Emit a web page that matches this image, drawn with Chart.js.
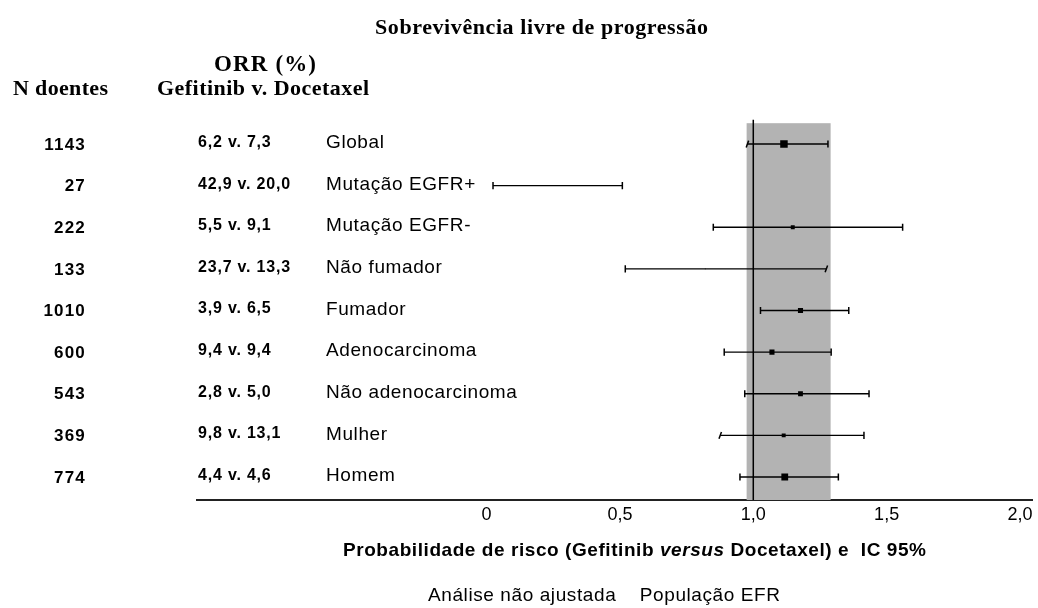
<!DOCTYPE html>
<html>
<head>
<meta charset="utf-8">
<script src="https://cdn.jsdelivr.net/npm/chart.js@4.4.0/dist/chart.umd.min.js"></script>
<style>
  html, body { margin: 0; padding: 0; background: #fff; }
</style>
</head>
<body>
<canvas id="forest" width="1038" height="608"></canvas>
<script>
// data
var subgroups = ['Global', 'Mutação EGFR+', 'Mutação EGFR-', 'Não fumador', 'Fumador',
                 'Adenocarcinoma', 'Não adenocarcinoma', 'Mulher', 'Homem'];
var nPatients = ['1143', '27', '222', '133', '1010', '600', '543', '369', '774'];
var orrValues = ['6,2 v. 7,3', '42,9 v. 20,0', '5,5 v. 9,1', '23,7 v. 13,3', '3,9 v. 6,5',
                 '9,4 v. 9,4', '2,8 v. 5,0', '9,8 v. 13,1', '4,4 v. 4,6'];
var hazardRatio = [1.115, 0.11, 1.148, 0.82, 1.177, 1.07, 1.177, 1.114, 1.118];
var ciLower     = [0.978, 0.024, 0.85, 0.52, 1.027, 0.891, 0.968, 0.876, 0.95];
var ciUpper     = [1.28, 0.509, 1.56, 1.274, 1.358, 1.292, 1.434, 1.415, 1.319];
var xTicks      = [0, 0.5, 1, 1.5, 2];
var xTickLabels = ['0', '0,5', '1,0', '1,5', '2,0'];
var bandLow = 0.975, bandHigh = 1.29;

var SANS = '"Liberation Sans", Arial, sans-serif';
var SERIF = '"Liberation Serif", "Times New Roman", serif';

// caps that come out slanted in the original ("row-end")
var slanted = ['0-0', '3-1', '7-0'];

function txt(ctx, s, x, y, font, align, spacing) {
  ctx.font = font;
  ctx.letterSpacing = (spacing || 0) + 'px';
  ctx.textAlign = align;
  ctx.textBaseline = 'middle';
  ctx.fillText(s, x, y);
}

// lay out pieces of text (each with own font) so they fill left..right
function fitParts(ctx, parts, left, right, y) {
  var natural = 0, chars = 0;
  ctx.letterSpacing = '0px';
  parts.forEach(function (p) {
    ctx.font = p[1];
    natural += ctx.measureText(p[0]).width;
    chars += p[0].length;
  });
  var sp = (right - left - natural) / (chars - 1);
  var x = left;
  parts.forEach(function (p) {
    txt(ctx, p[0], x, y, p[1], 'left', sp);
    x += ctx.measureText(p[0]).width;
  });
}

var ciDatasets = subgroups.map(function (name, i) {
  return {
    label: name,
    data: [{x: ciLower[i], y: i}, {x: ciUpper[i], y: i}],
    showLine: true,
    borderColor: '#000',
    borderWidth: 1.3,
    pointStyle: 'line',
    pointRotation: function (c) {
      return slanted.indexOf(i + '-' + c.dataIndex) >= 0 ? 110 : 90;
    },
    pointRadius: 3.6,
    pointBorderColor: '#000',
    pointBorderWidth: 1.5,
    order: 2
  };
});

var estimateSet = {
  label: 'HR',
  data: hazardRatio.map(function (v, i) { return {x: v, y: i}; }),
  showLine: false,
  pointStyle: 'rect',
  pointRadius: [5.3, 0.6, 2.8, 0.6, 3.6, 3.6, 3.4, 2.8, 4.8],
  backgroundColor: '#000',
  borderColor: '#000',
  borderWidth: 0,
  order: 1
};

var backdrop = {
  id: 'backdrop',
  beforeDatasetsDraw: function (chart) {
    var ctx = chart.ctx, xs = chart.scales.x, ys = chart.scales.y, area = chart.chartArea;
    var x1 = xs.getPixelForValue(bandLow), x2 = xs.getPixelForValue(bandHigh);
    var top = ys.getPixelForValue(-0.5);
    ctx.save();
    ctx.fillStyle = '#b3b3b3';
    ctx.fillRect(x1, top, x2 - x1, area.bottom - top);
    var xr = xs.getPixelForValue(1);
    ctx.strokeStyle = '#000';
    ctx.lineWidth = 1.5;
    ctx.beginPath();
    ctx.moveTo(xr, ys.getPixelForValue(-0.58));
    ctx.lineTo(xr, area.bottom);
    ctx.stroke();
    ctx.restore();
  }
};

var labels = {
  id: 'labels',
  afterDraw: function (chart) {
    var ctx = chart.ctx, ys = chart.scales.y;
    ctx.save();
    ctx.fillStyle = '#000';
    var hdr = 'bold 22px ' + SERIF;
    fitParts(ctx, [['Sobrevivência livre de progressão', hdr]], 375, 708, 28);
    fitParts(ctx, [['ORR (%)', 'bold 23px ' + SERIF]], 214, 316, 65);
    fitParts(ctx, [['N doentes', hdr]], 13, 108, 89);
    fitParts(ctx, [['Gefitinib v. Docetaxel', hdr]], 157, 369, 89);

    subgroups.forEach(function (name, i) {
      var y = ys.getPixelForValue(i);
      txt(ctx, nPatients[i], 86, y + 1, 'bold 17px ' + SANS, 'right', 1.2);
      txt(ctx, orrValues[i], 198, y - 1.5, 'bold 16px ' + SANS, 'left', 0.8);
      txt(ctx, name, 326, y - 1, '19px ' + SANS, 'left', 0.6);
    });

    // axis title with italic "versus"
    fitParts(ctx, [['Probabilidade de risco (Gefitinib ', 'bold 19px ' + SANS],
                   ['versus', 'italic bold 19px ' + SANS],
                   [' Docetaxel) e  IC 95%', 'bold 19px ' + SANS]], 343, 926, 551);

    fitParts(ctx, [['Análise não ajustada    População EFR', '19px ' + SANS]], 428, 780, 596);
    ctx.restore();
  }
};

new Chart(document.getElementById('forest'), {
  type: 'scatter',
  data: { datasets: ciDatasets.concat([estimateSet]) },
  options: {
    responsive: false,
    animation: false,
    layout: { padding: { left: 197, right: 3, top: 110, bottom: 78.4 } },
    plugins: { legend: { display: false }, title: { display: false }, tooltip: { enabled: false } },
    scales: {
      x: {
        type: 'linear',
        min: -1.086,
        max: 2.047,
        afterBuildTicks: function (axis) {
          axis.ticks = xTicks.map(function (v) { return {value: v}; });
        },
        ticks: {
          padding: 4,
          color: '#000',
          font: { family: SANS, size: 18 },
          callback: function (v, i) { return xTickLabels[i]; }
        },
        grid: { display: false, drawTicks: false },
        border: { display: true, color: '#222', width: 2 }
      },
      y: {
        type: 'linear',
        display: false,
        reverse: true,
        min: -0.817,
        max: 8.553
      }
    }
  },
  plugins: [backdrop, labels]
});
</script>
</body>
</html>
